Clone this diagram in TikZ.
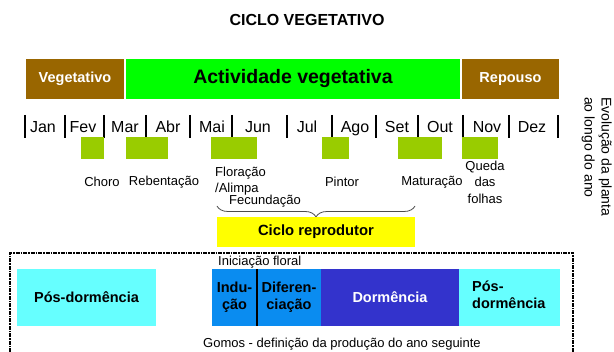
\documentclass[tikz,border=0pt]{standalone}
\usepackage{fontspec}
\setmainfont{Liberation Sans}
\usetikzlibrary{decorations.pathreplacing}
\definecolor{brownc}{HTML}{996600}
\definecolor{greenc}{HTML}{00FF00}
\definecolor{olivec}{HTML}{99CC00}
\definecolor{cyanc}{HTML}{66FFFF}
\definecolor{bluec}{HTML}{0A8CF0}
\definecolor{darkbluec}{HTML}{3333CC}
\definecolor{yellowc}{HTML}{FFFF00}
\newcommand{\fs}[1]{\fontsize{#1}{#1}\selectfont}
\tikzset{
  bar/.style={draw=none, inner sep=0, minimum height=40pt, font=\bfseries\fs{14.5}},
  month/.style={inner sep=0, font=\fs{16}, anchor=base},
  sq/.style={fill=olivec, draw=none, inner sep=0, minimum height=22pt},
  lbl/.style={inner sep=0, font=\fs{13}, align=center},
  bbox/.style={draw=none, inner sep=0, minimum height=57pt, font=\bfseries\fs{14.5}, align=center},
}
\begin{document}
\begin{tikzpicture}[x=1pt,y=-1pt]
\useasboundingbox (0,0) rectangle (614,352);
\fill[white] (0,0) rectangle (614,352);
% title
\node[inner sep=0, font=\bfseries\fs{16}] (title) at (307,20) {CICLO VEGETATIVO};
% top bars
\node[bar, fill=brownc, text=white, minimum width=98pt] (veg) at (75,79) {Vegetativo};
\node[bar, fill=greenc, minimum width=334pt, font=\bfseries\fs{19.5}] (act) at (293,79) {Actividade vegetativa};
\node[bar, fill=brownc, text=white, minimum width=97pt] (rep) at (510.5,79) {Repouso};
% month separators
\foreach \x in {25,65,104,146,190,232,287,332,376,418,463,509,558}
  \draw[line width=1.5pt] (\x,115) -- (\x,138);
% months
\node[month] (jan) at (43,133) {Jan};
\node[month] (fev) at (83,133) {Fev};
\node[month] (mar) at (125,133) {Mar};
\node[month] (abr) at (168,133) {Abr};
\node[month] (mai) at (212,133) {Mai};
\node[month] (jun) at (258,133) {Jun};
\node[month] (jul) at (307,133) {Jul};
\node[month] (ago) at (355,133) {Ago};
\node[month] (set) at (397,133) {Set};
\node[month] (out) at (440,133) {Out};
\node[month] (nov) at (487,133) {Nov};
\node[month] (dez) at (532,133) {Dez};
% green squares
\node[sq, minimum width=23pt] (s1) at (92.5,148) {};
\node[sq, minimum width=42pt] (s2) at (147,148) {};
\node[sq, minimum width=46pt] (s3) at (234,148) {};
\node[sq, minimum width=27pt] (s4) at (335.5,148) {};
\node[sq, minimum width=44pt] (s5) at (420,148) {};
\node[sq, minimum width=36pt] (s6) at (480,148) {};
% labels
\node[lbl] (choro) at (102,182) {Choro};
\node[lbl] (reb) at (164,182) {Rebentação};
\node[lbl, anchor=west] (flo1) at (215,173) {Floração};
\node[lbl, anchor=west] (flo2) at (215,189) {/Alimpa};
\node[lbl, anchor=west] (flo3) at (229,201) {Fecundação};
\node[lbl] (pin) at (342,182) {Pintor};
\node[lbl] (mat) at (432,182) {Maturação};
\node[lbl, font=\fs{13}, align=center] (queda) at (485,182) {Queda\\[3.5pt]das\\[3.5pt]folhas};
% brace
\draw[decorate, decoration={brace, mirror, amplitude=11pt}, color=black!70, line width=0.8pt] (217,206) -- (415,206);
% ciclo reprodutor
\node[fill=yellowc, inner sep=0, minimum width=198pt, minimum height=30pt, font=\bfseries\fs{14.8}] (cic) at (316,232) {Ciclo reprodutor};
% dashed box
\draw[line width=1.3pt, dash pattern=on 4pt off 1pt on 1.5pt off 1pt] (10,360) -- (10,253) -- (573,253) -- (573,360);
\node[lbl, anchor=west] (ini) at (218,262) {Iniciação floral};
% bottom row
\node[bbox, fill=cyanc, minimum width=139pt] (pd1) at (86.5,297.5) {Pós-dormência};
\node[bbox, fill=bluec, minimum width=45pt] (ind) at (234.5,297.5) {Indu-\\[2pt]ção};
\node[bbox, fill=bluec, minimum width=64pt] (dif) at (289,297.5) {Diferen-\\[2pt]ciação};
\node[bbox, fill=darkbluec, text=white, minimum width=138pt] (dor) at (390,297.5) {Dormência};
\node[bbox, fill=cyanc, minimum width=101pt] (pd2) at (509.5,297.5) {};
\node[inner sep=0, font=\bfseries\fs{14.5}, align=left, anchor=west] (pd2t) at (472,295) {Pós-\\[2pt]dormência};
\draw[line width=2pt] (ind.north east) -- (ind.south east);
\node[lbl] (gomos) at (342,344) {Gomos - definição da produção do ano seguinte};
% rotated text
\node[inner sep=0, font=\fs{14}, align=left, rotate=-90, anchor=north west] (evo) at (612,97) {Evolução da planta\\[3pt]ao longo do ano};
\end{tikzpicture}
\end{document}
